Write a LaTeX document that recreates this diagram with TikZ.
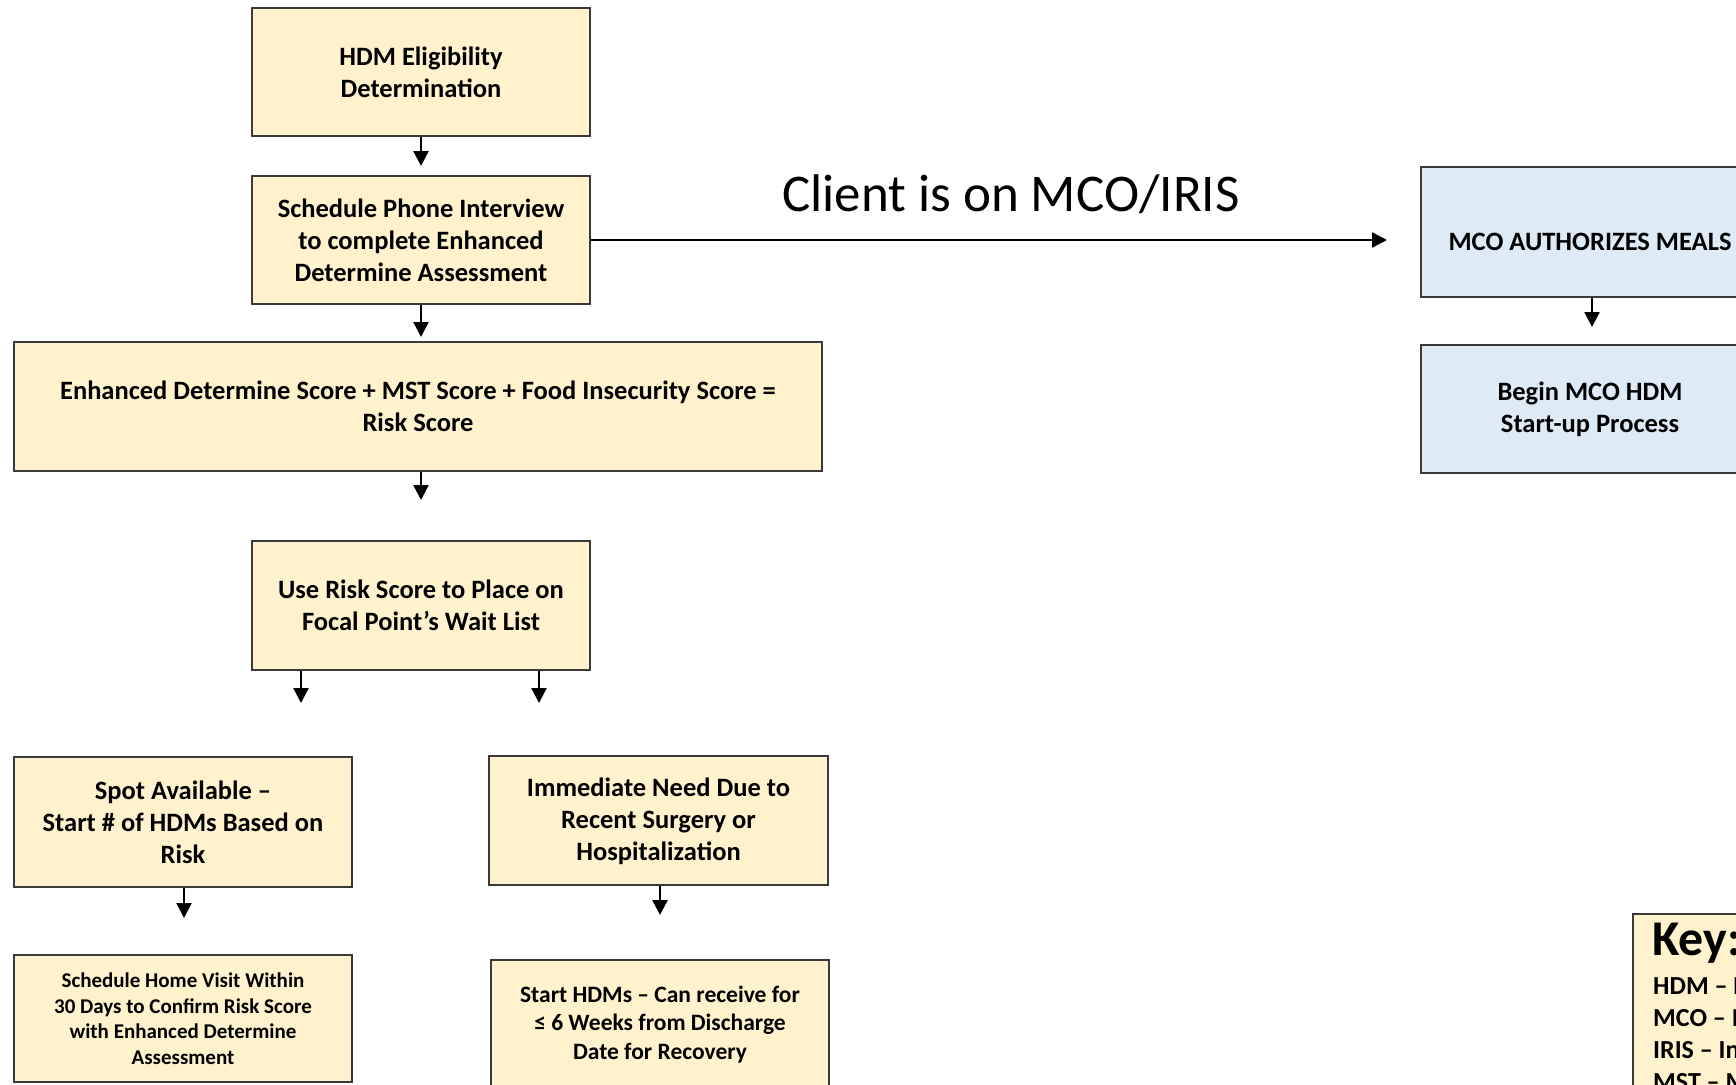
\documentclass[tikz,border=0pt]{standalone}
\usepackage{fontspec}
\setmainfont{Carlito}
\usetikzlibrary{arrows.meta,shadows}
\definecolor{ycol}{HTML}{FFF2CC}
\definecolor{bcol}{HTML}{DEEBF7}
\definecolor{edgecol}{HTML}{3A3A3A}
\tikzset{
  boxbase/.style={draw=edgecol, line width=1.6pt, inner sep=2pt, align=center,
    drop shadow={shadow xshift=1.2pt, shadow yshift=-1.2pt, opacity=0.35, fill=black!60},
    font=\bfseries\fontsize{26.5}{32}\selectfont},
  yellowbox/.style={boxbase, fill=ycol},
  bluebox/.style={boxbase, fill=bcol},
  arr/.style={-{Triangle[width=15pt,length=15pt]}, line width=2.4pt, black},
  keyline/.style={anchor=base west, inner sep=0pt, font=\bfseries\fontsize{26}{32}\selectfont},
}
\begin{document}
\begin{tikzpicture}[x=1pt,y=-1pt]
\useasboundingbox (0,0) rectangle (1736,1084);
\clip (0,0) rectangle (1736,1084);
\fill[white] (0,0) rectangle (1736,1084);

% left column
\node[yellowbox, minimum width=338pt, minimum height=128pt] (b1) at (421,72) {HDM Eligibility\\Determination};
\node[yellowbox, minimum width=338pt, minimum height=128pt] (b2) at (421,240) {Schedule Phone Interview\\to complete Enhanced\\Determine Assessment};
\node[yellowbox, minimum width=808pt, minimum height=129pt] (b3) at (418,406.5) {Enhanced Determine Score + MST Score + Food Insecurity Score =\\Risk Score};
\node[yellowbox, minimum width=338pt, minimum height=129pt] (b4) at (421,605.5) {Use Risk Score to Place on\\Focal Point’s Wait List};
\node[yellowbox, minimum width=338pt, minimum height=130pt] (b5) at (183,822) {Spot Available –\\Start \# of HDMs Based on\\Risk};
\node[yellowbox, minimum width=339pt, minimum height=129pt, text depth=3pt] (b6) at (658.5,820.5) {Immediate Need Due to\\Recent Surgery or\\Hospitalization};
\node[yellowbox, minimum width=338pt, minimum height=127pt, font=\bfseries\fontsize{21}{25.5}\selectfont] (b7) at (183,1018.5) {Schedule Home Visit Within\\30 Days to Confirm Risk Score\\with Enhanced Determine\\Assessment};
\node[yellowbox, minimum width=338pt, minimum height=129pt, font=\bfseries\fontsize{23.5}{28.8}\selectfont] (b8) at (660,1024.5) {Start HDMs – Can receive for\\≤ 6 Weeks from Discharge\\Date for Recovery};

% right column
\node[bluebox, minimum width=338pt, minimum height=130pt, text height=42pt, text depth=5pt] (m1) at (1590,232) {MCO AUTHORIZES MEALS};
\node[bluebox, minimum width=338pt, minimum height=128pt] (m2) at (1590,409) {Begin MCO HDM\\Start-up Process};

% key
\node[draw=edgecol, line width=1.6pt, fill=ycol, minimum width=400pt, minimum height=300pt, anchor=north west] (key) at (1632,913) {};
\node[anchor=base west, inner sep=0pt, font=\bfseries\fontsize{50}{56}\selectfont] (keyt) at (1652,955) {Key:};
\node[keyline] (k1) at (1653,994) {HDM – Home Delivered Meals};
\node[keyline] (k2) at (1653,1026) {MCO – Managed Care Organization};
\node[keyline] (k3) at (1653,1058) {IRIS – Include, Respect, I Self-Direct};
\node[keyline] (k4) at (1653,1090) {MST – Malnutrition Screening Tool};

% label of long connector
\node[anchor=base, inner sep=0pt, font=\fontsize{53}{62}\selectfont] (lbl) at (1011,211) {Client is on MCO/IRIS};

% arrow tips
\coordinate (t1) at (421,166);
\coordinate (t2) at (421,337);
\coordinate (t3) at (421,500);
\coordinate (t4) at (301,703);
\coordinate (t5) at (539,703);
\coordinate (t6) at (184,918);
\coordinate (t7) at (660,915);
\coordinate (t8) at (1592,327);
\coordinate (t9) at (1387,240);

\draw[arr] (b1.south) -- (t1);
\draw[arr] (b2.south) -- (t2);
\draw[arr] (b3.south -| t3) -- (t3);
\draw[arr] (b4.south -| t4) -- (t4);
\draw[arr] (b4.south -| t5) -- (t5);
\draw[arr] (b5.south -| t6) -- (t6);
\draw[arr] (b6.south -| t7) -- (t7);
\draw[arr] (m1.south -| t8) -- (t8);
\draw[arr] (b2.east) -- (t9);
\end{tikzpicture}
\end{document}
